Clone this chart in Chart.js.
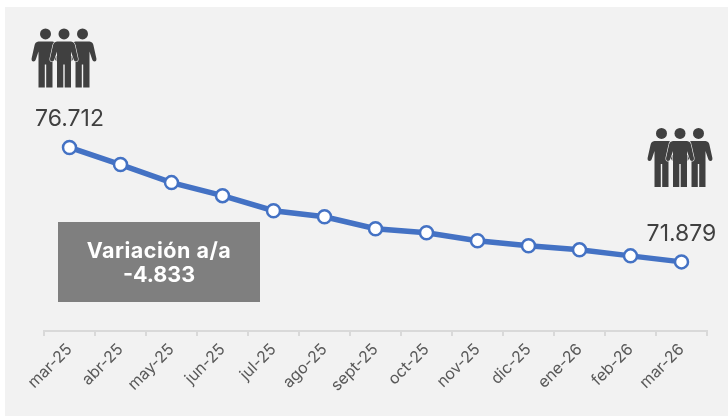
<!DOCTYPE html>
<html>
<head>
<meta charset="utf-8">
<script src="https://cdn.jsdelivr.net/npm/chart.js@4"></script>
<style>
    html, body { margin: 0; padding: 0; background: #fff; overflow: hidden; }
    canvas { display: block; }
</style>
</head>
<body>
<canvas id="employeesChart" width="728" height="416"></canvas>
<script>
var categories = ['mar-25', 'abr-25', 'may-25', 'jun-25', 'jul-25', 'ago-25', 'sept-25', 'oct-25', 'nov-25', 'dic-25', 'ene-26', 'feb-26', 'mar-26'];
var employees = [76712, 75991, 75228, 74677, 74041, 73787, 73278, 73109, 72770, 72558, 72388, 72134, 71879];
var firstLabel = '76.712';
var lastLabel = '71.879';
var boxLines = ['Variación a/a', '-4.833'];
var yMin = 68960;
var yMax = 82561;

var fontName = 'Inter, "Open Sans", sans-serif';

function drawPerson(ctx, cx, top) {
    ctx.beginPath();
    ctx.arc(cx, top + 5.5, 5.5, 0, Math.PI * 2);
    ctx.fill();
    ctx.beginPath();
    ctx.moveTo(cx - 7, top + 13);
    ctx.lineTo(cx + 7, top + 13);
    ctx.quadraticCurveTo(cx + 10.5, top + 13.5, cx + 11, top + 17);
    ctx.lineTo(cx + 13.9, top + 30);
    ctx.quadraticCurveTo(cx + 14.2, top + 33, cx + 12, top + 33);
    ctx.quadraticCurveTo(cx + 10.2, top + 33, cx + 9.7, top + 31);
    ctx.lineTo(cx + 7, top + 23);
    ctx.lineTo(cx + 7, top + 59);
    ctx.lineTo(cx + 0.7, top + 59);
    ctx.lineTo(cx + 0.7, top + 36);
    ctx.lineTo(cx - 0.7, top + 36);
    ctx.lineTo(cx - 0.7, top + 59);
    ctx.lineTo(cx - 7, top + 59);
    ctx.lineTo(cx - 7, top + 23);
    ctx.lineTo(cx - 9.7, top + 31);
    ctx.quadraticCurveTo(cx - 10.2, top + 33, cx - 12, top + 33);
    ctx.quadraticCurveTo(cx - 14.2, top + 33, cx - 13.9, top + 30);
    ctx.lineTo(cx - 11, top + 17);
    ctx.quadraticCurveTo(cx - 10.5, top + 13.5, cx - 7, top + 13);
    ctx.closePath();
}

function drawGroup(ctx, cx, top) {
    ctx.save();
    ctx.fillStyle = '#404040';
    ctx.strokeStyle = '#f2f2f2';
    ctx.lineWidth = 1.2;
    drawPerson(ctx, cx - 18.5, top);
    ctx.fill();
    drawPerson(ctx, cx + 18.5, top);
    ctx.fill();
    drawPerson(ctx, cx, top);
    ctx.stroke();
    ctx.fill();
    ctx.restore();
}

// grey panel behind everything
var panelPlugin = {
    id: 'panel',
    beforeDraw: function (chart) {
        var ctx = chart.ctx;
        ctx.save();
        ctx.fillStyle = '#f2f2f2';
        ctx.fillRect(5, 7, 723, 409);
        ctx.restore();
    }
};

// icons, end labels and the variation box
var extrasPlugin = {
    id: 'extras',
    afterDraw: function (chart) {
        var ctx = chart.ctx;
        var x = chart.scales.x;
        var y = chart.scales.y;
        var last = employees.length - 1;

        drawGroup(ctx, x.getPixelForValue(0) - 5.5, y.getPixelForValue(employees[0]) - 119);
        drawGroup(ctx, x.getPixelForValue(last) - 1.5, y.getPixelForValue(employees[last]) - 134);

        ctx.save();
        ctx.fillStyle = '#404040';
        ctx.font = '23px ' + fontName;
        ctx.textAlign = 'center';
        ctx.textBaseline = 'middle';
        ctx.fillText(firstLabel, x.getPixelForValue(0), y.getPixelForValue(employees[0]) - 28);
        ctx.fillText(lastLabel, x.getPixelForValue(last), y.getPixelForValue(employees[last]) - 28);

        ctx.fillStyle = '#7f7f7f';
        ctx.fillRect(58, 222, 202, 80);
        ctx.fillStyle = '#ffffff';
        ctx.font = 'bold 21.5px ' + fontName;
        ctx.letterSpacing = '0.5px';
        ctx.fillText(boxLines[0], 159, 252);
        ctx.letterSpacing = '0px';
        ctx.fillText(boxLines[1], 159, 276);
        ctx.restore();
    }
};

var ctxEmployees = document.getElementById('employeesChart').getContext('2d');
var employeesChart = new Chart(ctxEmployees, {
    type: 'line',
    plugins: [panelPlugin, extrasPlugin],
    data: {
        labels: categories,
        datasets: [{
            data: employees,
            borderColor: '#4472c4',
            borderWidth: 5.5,
            tension: 0,
            pointRadius: 6.5,
            pointBackgroundColor: '#ffffff',
            pointBorderColor: '#4472c4',
            pointBorderWidth: 2.5
        }]
    },
    options: {
        responsive: false,
        animation: false,
        layout: { padding: { left: 44, right: 21, top: 0, bottom: 0 } },
        plugins: {
            legend: { display: false },
            title: { display: false },
            tooltip: { enabled: false }
        },
        scales: {
            x: {
                offset: true,
                afterFit: function (scale) { scale.height = 85; },
                border: { color: '#d9d9d9', width: 2 },
                grid: {
                    offset: true,
                    drawOnChartArea: false,
                    color: '#d9d9d9',
                    lineWidth: 2,
                    tickLength: 5
                },
                ticks: {
                    minRotation: 45,
                    maxRotation: 45,
                    autoSkip: false,
                    padding: 4,
                    color: '#595959',
                    font: { family: fontName, size: 16 }
                }
            },
            y: {
                display: false,
                min: yMin,
                max: yMax
            }
        }
    }
});
</script>
</body>
</html>
